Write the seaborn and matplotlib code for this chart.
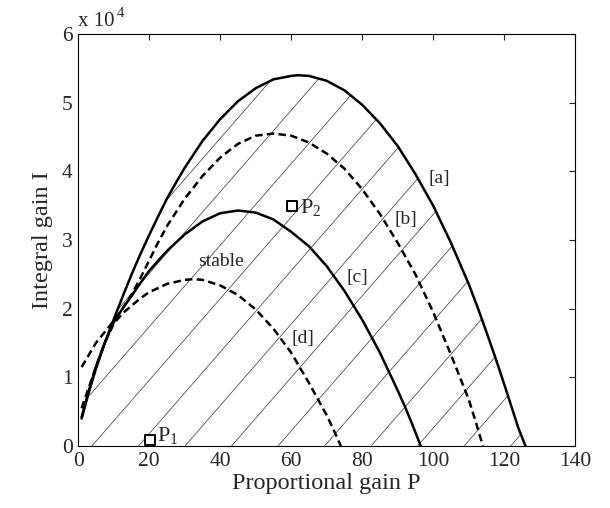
import numpy as np
import matplotlib
matplotlib.use("Agg")
import matplotlib.pyplot as plt
import seaborn as sns

# values (I in units of 1e4)
P_a = [1, 3, 5, 7.5, 10, 12.5, 15, 17.5, 20, 22.5, 25, 27.5, 30, 35, 40, 45, 50, 55, 60, 62, 65, 70, 75, 80, 85, 90, 95,
       100, 105, 110, 112.5, 115, 117.5, 120, 122.5, 124, 126]
I_a = [0.42, 0.80, 1.15, 1.50, 1.84, 2.17, 2.49, 2.79, 3.07, 3.34, 3.60, 3.83, 4.05, 4.44, 4.76, 5.02, 5.21, 5.34, 5.39,
       5.40, 5.39, 5.32, 5.18, 4.97, 4.70, 4.37, 3.96, 3.50, 2.96, 2.36, 2.02, 1.66, 1.29, 0.90, 0.50, 0.26, 0.0]

P_b = [1, 5, 10, 12.5, 15, 17.5, 20, 22.5, 25, 30, 35, 40, 45, 50, 55, 60, 65, 70, 75, 80, 85, 90, 95, 100, 105, 110, 112,
       114]
I_b = [1.15, 1.50, 1.82, 2.00, 2.20, 2.44, 2.70, 2.96, 3.20, 3.60, 3.93, 4.20, 4.40, 4.52, 4.55, 4.52, 4.42, 4.26, 4.04,
       3.74, 3.38, 2.96, 2.50, 1.95, 1.33, 0.68, 0.35, 0.0]

P_c = [1, 3, 5, 7.5, 10, 12.5, 15, 17.5, 20, 25, 30, 35, 40, 45, 50, 55, 60, 65, 70, 75, 80, 85, 90, 92, 94, 96.5]
I_c = [0.40, 0.78, 1.12, 1.50, 1.80, 2.00, 2.18, 2.37, 2.55, 2.84, 3.08, 3.27, 3.39, 3.43, 3.40, 3.30, 3.12, 2.91, 2.62,
       2.26, 1.84, 1.36, 0.81, 0.58, 0.33, 0.0]

P_d = [1, 3, 5, 7.5, 10, 12.5, 15, 17.5, 20, 25, 30, 32.5, 35, 40, 45, 50, 55, 60, 65, 70, 72, 74]
I_d = [0.55, 0.85, 1.15, 1.50, 1.78, 1.93, 2.04, 2.15, 2.24, 2.36, 2.42, 2.43, 2.42, 2.34, 2.20, 1.99, 1.71, 1.36, 0.92,
       0.45, 0.23, 0.0]

curve_labels = ['[a]', '[b]', '[c]', '[d]']
label_pos = [(101.7, 3.89), (92.3, 3.30), (78.6, 2.45), (63.4, 1.56)]

points = ['P', 'P']
point_sub = ['1', '2']
point_P = [20.3, 60.2]
point_I = [0.09, 3.50]

sns.set_style("white")
plt.rcParams['font.family'] = ['Liberation Serif', 'DejaVu Serif']
plt.rcParams['mathtext.fontset'] = 'custom'
plt.rcParams['mathtext.rm'] = 'Liberation Serif'
plt.rcParams['mathtext.it'] = 'Liberation Serif'

fig = plt.figure(figsize=(6.1, 5.08), dpi=100)
ax = fig.add_axes([0.128, 0.122, 0.815, 0.811])

# hatched stable region under curve [a]
poly = ax.fill_between(P_a, I_a, 0, facecolor='none', edgecolor='none')
slope = 0.0594
for c in np.arange(3.9 - 13.1 * 10, 140, 13.1):
    ln, = ax.plot([c, c + 7 / slope], [0, 7], color='#333333', lw=0.5)
    ln.set_clip_path(poly.get_paths()[0], ax.transData)

for P, I, ls in [(P_a, I_a, '-'), (P_b, I_b, '--'), (P_c, I_c, '-'), (P_d, I_d, '--')]:
    sns.lineplot(x=P, y=I, ax=ax, color='black', lw=1.8, estimator=None, sort=False)
    l = ax.lines[-1]
    l.set_linestyle(ls)
    if ls == '--':
        l.set_dashes([3.0, 1.7])

sns.scatterplot(x=point_P, y=point_I, ax=ax, marker='s', s=50, facecolor='white', edgecolor='black', linewidth=1.4,
                zorder=5)

for lab, (x, y) in zip(curve_labels, label_pos):
    ax.text(x, y, lab, fontsize=14, ha='center', va='center')

ax.text(40.3, 2.69, 'stable', fontsize=14, ha='center', va='center')
ax.text(point_P[0] + 1.8, 0.08, r'$\mathrm{%s}_{%s}$' % (points[0], point_sub[0]), fontsize=16, ha='left', va='baseline')
ax.text(point_P[1] + 2.3, 3.39, r'$\mathrm{%s}_{%s}$' % (points[1], point_sub[1]), fontsize=16, ha='left', va='baseline')

ax.set_xlim(0, 140)
ax.set_ylim(0, 6)
ax.set_xticks(np.arange(0, 141, 20))
ax.set_yticks(np.arange(0, 7, 1))
ax.tick_params(direction='in', length=4, width=0.8, top=True, right=True, labelsize=15.5, pad=4)
for s in ax.spines.values():
    s.set_linewidth(0.8)
    s.set_color('black')

ax.set_xlabel('Proportional gain P', fontsize=17.5, labelpad=2)
ax.set_ylabel('Integral gain I', fontsize=17.5, labelpad=6)

ax.text(0.0, 1.008, 'x 10', transform=ax.transAxes, fontsize=15, ha='left', va='bottom')
ax.text(0.078, 1.035, '4', transform=ax.transAxes, fontsize=10.5, ha='left', va='bottom')

fig.savefig('out.png', dpi=100)
